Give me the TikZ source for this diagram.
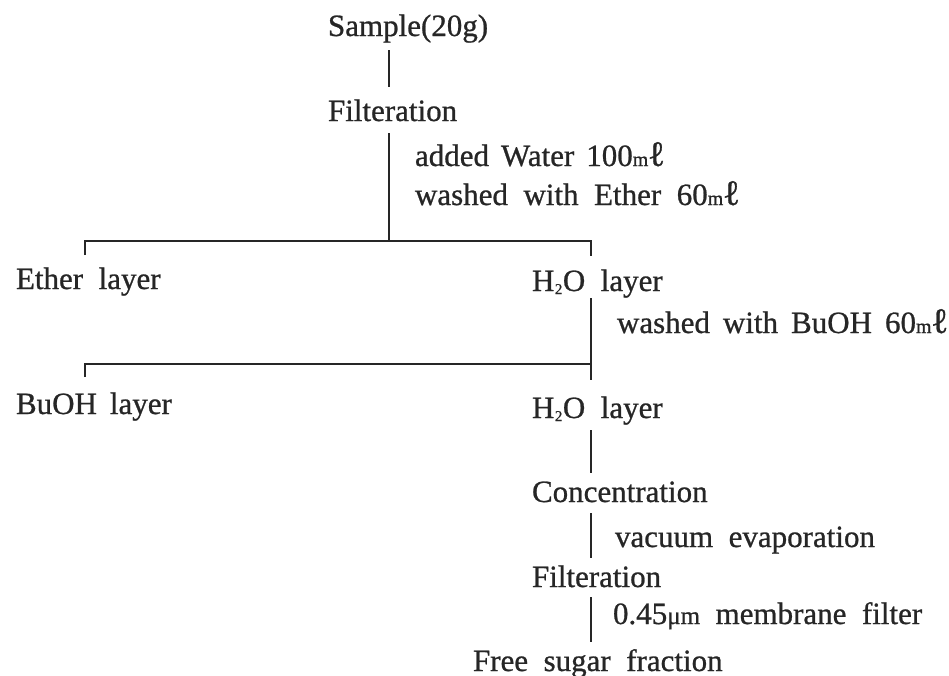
\documentclass[tikz,border=0pt]{standalone}
\usepackage{fontspec}
\setmainfont{Liberation Serif}[WordSpace=2,FakeBold=0.8]
\definecolor{ink}{HTML}{262626}
\newcommand{\ml}{{\fontsize{20}{20}\selectfont m}\kern-0.5pt{\fontsize{36}{36}\selectfont ℓ}}
\newcommand{\HtwoO}{H\kern0.5pt\raisebox{-3pt}{\fontsize{15}{15}\selectfont 2}\kern0.5pt O}
\newcommand{\wsp}[1]{\spaceskip=#1\relax}
\begin{document}
\begin{tikzpicture}[x=1pt,y=-1pt,
  lbl/.style={anchor=base west,inner sep=0pt,outer sep=0pt,text height=22pt,text depth=7pt,
    text=ink,font=\fontsize{31}{36}\selectfont},
  conn/.style={draw=ink,line width=1.7pt,line join=miter}]
\useasboundingbox (0,0) rectangle (949,675);
% spines and junctions
\coordinate (j1) at (389,241);
\coordinate (L1) at (85,241);
\coordinate (R1) at (591,241);
\coordinate (L2) at (85,364);
\coordinate (R2) at (591,364);
% texts
\node[lbl] (sample) at (328,36) {Sample(20g)};
\node[lbl] (filt1) at (328,121) {Filteration};
\node[lbl] (addw) at (415,166) {\wsp{12pt}added Water 100\ml};
\node[lbl] (wash1) at (415,205) {washed with Ether 60\ml};
\node[lbl] (ether) at (16,289) {Ether layer};
\node[lbl] (h2o1) at (532,291) {\HtwoO\ layer};
\node[lbl] (wash2) at (617,333) {\wsp{13pt}washed with BuOH 60\ml};
\node[lbl] (buoh) at (16,414) {\wsp{13pt}BuOH layer};
\node[lbl] (h2o2) at (532,418) {\HtwoO\ layer};
\node[lbl] (conc) at (532,502) {Concentration};
\node[lbl] (vac) at (615,547) {vacuum evaporation};
\node[lbl] (filt2) at (532,587) {Filteration};
\node[lbl] (memb) at (613,624) {0.45{\fontsize{25}{25}\selectfont μm} membrane filter};
\node[lbl] (free) at (473,671) {Free sugar fraction};
% connectors
\draw[conn,shorten <=7pt,shorten >=12pt] (j1 |- sample.south) -- (j1 |- filt1.north);
\draw[conn,shorten <=5pt] (j1 |- filt1.south) -- (j1);
\draw[conn,shorten <=12pt,shorten >=13pt] (L1 |- ether.north) -- (L1) -- (R1) -- (R1 |- h2o1.north);
\draw[conn,shorten >=16pt] (R2 |- h2o1.south) -- (R2 |- h2o2.north);
\draw[conn,shorten <=15pt] (L2 |- buoh.north) -- (L2) -- (R2);
\draw[conn,shorten <=5pt,shorten >=7pt] (R2 |- h2o2.south) -- (R2 |- conc.north);
\draw[conn,shorten <=4pt,shorten >=7pt] (R2 |- conc.south) -- (R2 |- filt2.north);
\draw[conn,shorten <=3pt,shorten >=7pt] (R2 |- filt2.south) -- (R2 |- free.north);
\end{tikzpicture}
\end{document}
